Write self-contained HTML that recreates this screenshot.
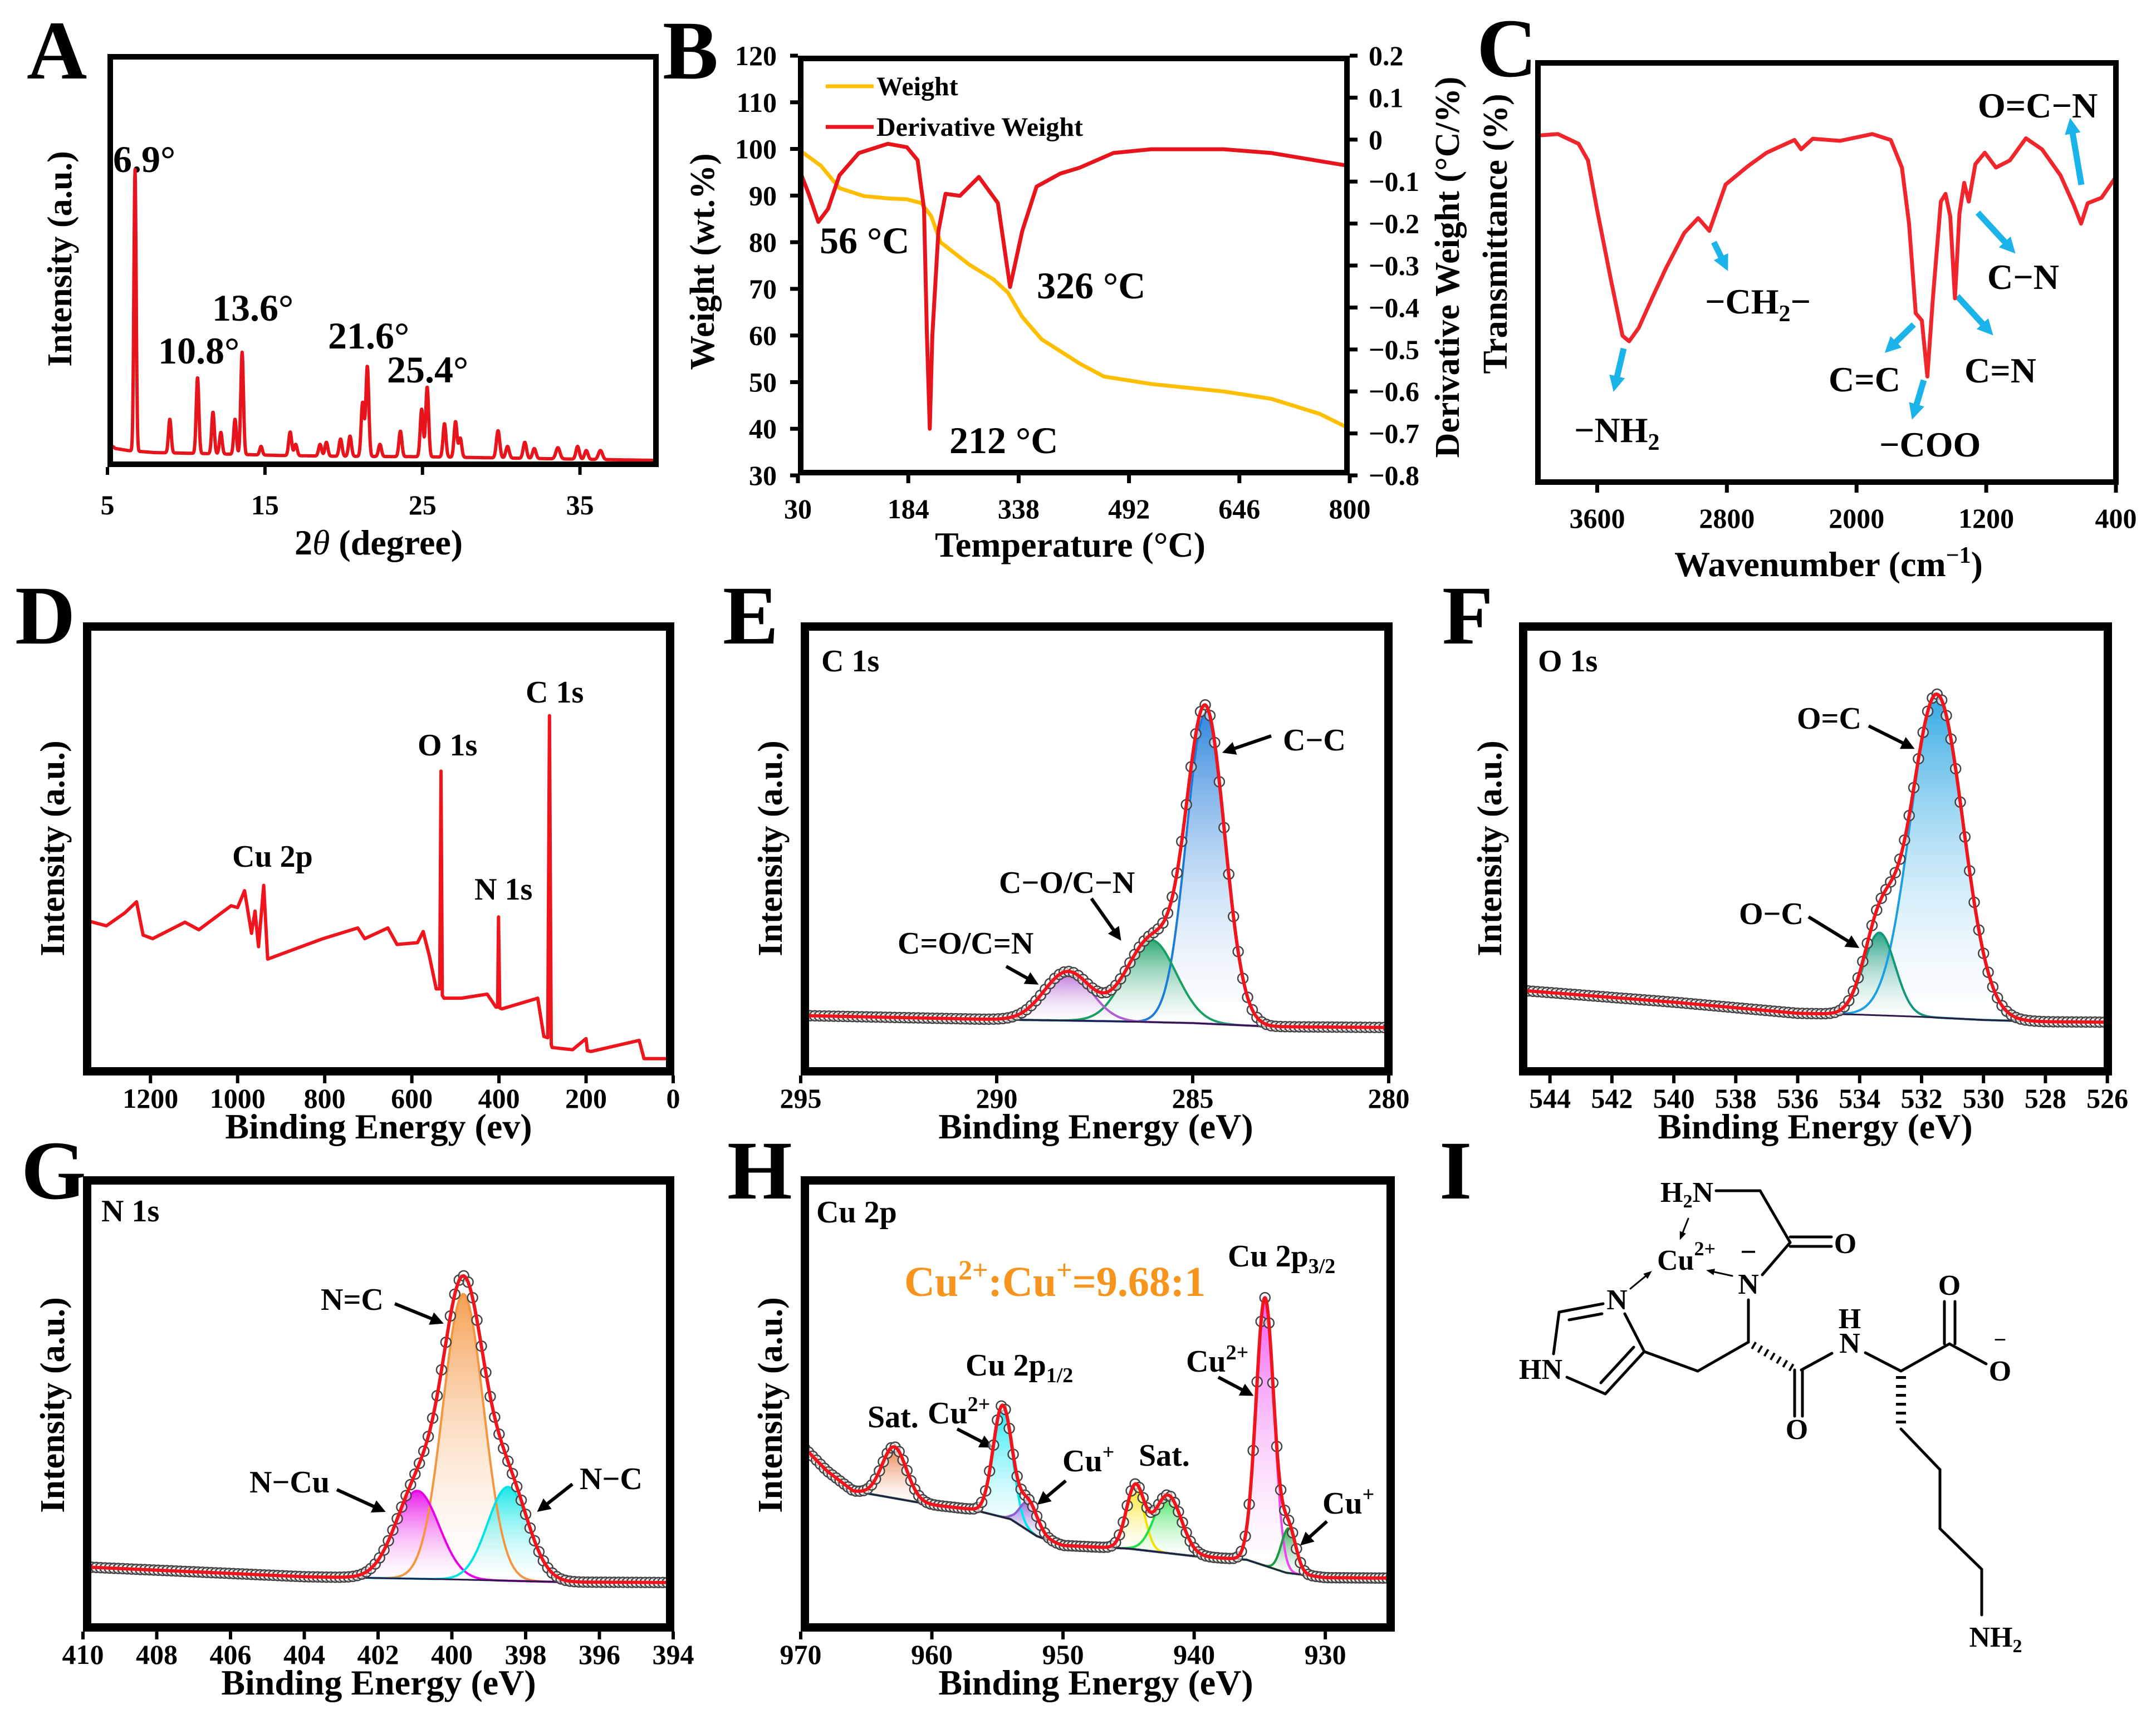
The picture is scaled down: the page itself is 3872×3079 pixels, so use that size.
<!DOCTYPE html>
<html><head><meta charset="utf-8">
<style>
html,body{margin:0;padding:0;background:#fff}
svg{display:block}
text{font-family:"Liberation Serif","DejaVu Serif",serif;font-weight:bold;fill:#000}
</style></head>
<body>
<svg id="fig" xmlns="http://www.w3.org/2000/svg" width="3872" height="3079" viewBox="0 0 3872 3079">
<defs>
<clipPath id="clipA"><rect x="203" y="107" width="970" height="722"/></clipPath>
<clipPath id="clipB"><rect x="1443" y="110" width="971" height="734"/></clipPath>
<clipPath id="clipC"><rect x="2767" y="118" width="1028" height="743"/></clipPath>
<clipPath id="clipD"><rect x="164" y="1133" width="1032" height="784"/></clipPath>
<clipPath id="clipE"><rect x="1453" y="1133" width="1033" height="784"/></clipPath>
<clipPath id="clipF"><rect x="2743" y="1133" width="1035" height="784"/></clipPath>
<clipPath id="clipG"><rect x="164" y="2128" width="1032" height="788"/></clipPath>
<clipPath id="clipH"><rect x="1453" y="2128" width="1037" height="788"/></clipPath>
<marker id="arrBlue" viewBox="0 0 10 10" refX="5" refY="5" markerWidth="2.6" markerHeight="2.6" orient="auto"><path d="M0,0 L10,5 L0,10 z" fill="#1ab3ea"/></marker>
<marker id="arrBlack" viewBox="0 0 10 10" refX="6" refY="5" markerWidth="4" markerHeight="4" orient="auto"><path d="M0,0 L10,5 L0,10 z" fill="#000"/></marker>
<marker id="arrThin" viewBox="0 0 10 10" refX="6" refY="5" markerWidth="5" markerHeight="5" orient="auto"><path d="M0,1 L10,5 L0,9 z" fill="#000"/></marker>
</defs>
<rect width="3872" height="3079" fill="#fff"/>

<text x="48" y="141" font-size="150">A</text>
<text x="1190" y="141" font-size="150">B</text>
<text x="2652" y="137" font-size="150">C</text>
<text x="27" y="1156" font-size="150">D</text>
<text x="1298" y="1156" font-size="150">E</text>
<text x="2590" y="1156" font-size="150">F</text>
<text x="38" y="2153" font-size="150">G</text>
<text x="1306" y="2153" font-size="150">H</text>
<text x="2585" y="2153" font-size="150">I</text>

<rect x="198" y="102" width="980" height="732" fill="none" stroke="#000" stroke-width="10"/>
<rect x="1438" y="105" width="981" height="744" fill="none" stroke="#000" stroke-width="10"/>
<rect x="2762" y="113" width="1038" height="753" fill="none" stroke="#000" stroke-width="10"/>
<rect x="156.5" y="1125.5" width="1047" height="799" fill="none" stroke="#000" stroke-width="15"/>
<rect x="1445.5" y="1125.5" width="1048" height="799" fill="none" stroke="#000" stroke-width="15"/>
<rect x="2735.5" y="1125.5" width="1050" height="799" fill="none" stroke="#000" stroke-width="15"/>
<rect x="156.5" y="2120.5" width="1047" height="803" fill="none" stroke="#000" stroke-width="15"/>
<rect x="1445.5" y="2120.5" width="1052" height="803" fill="none" stroke="#000" stroke-width="15"/>

<text x="680" y="996" font-size="64" text-anchor="middle">2<tspan font-style="italic" font-weight="normal">θ</tspan> (degree)</text>
<text transform="translate(128,465) rotate(-90)" font-size="62" text-anchor="middle">Intensity (a.u.)</text>
<text x="1922" y="1000" font-size="64" text-anchor="middle">Temperature (°C)</text>
<text transform="translate(1282,470) rotate(-90)" font-size="62" text-anchor="middle">Weight (wt.%)</text>
<text transform="translate(2620,480) rotate(-90)" font-size="62" text-anchor="middle">Derivative Weight (°C/%)</text>
<text x="3284" y="1035" font-size="64" text-anchor="middle">Wavenumber (cm<tspan font-size="42" dy="-24">−1</tspan><tspan dy="24">)</tspan></text>
<text transform="translate(2706,420) rotate(-90)" font-size="62" text-anchor="middle">Transmittance (%)</text>
<text x="680" y="2045" font-size="64" text-anchor="middle">Binding Energy (ev)</text>
<text transform="translate(115,1524) rotate(-90)" font-size="62" text-anchor="middle">Intensity (a.u.)</text>
<text x="1968" y="2045" font-size="64" text-anchor="middle">Binding Energy (eV)</text>
<text transform="translate(1404,1524) rotate(-90)" font-size="62" text-anchor="middle">Intensity (a.u.)</text>
<text x="3260" y="2045" font-size="64" text-anchor="middle">Binding Energy (eV)</text>
<text transform="translate(2696,1524) rotate(-90)" font-size="62" text-anchor="middle">Intensity (a.u.)</text>
<text x="680" y="3044" font-size="64" text-anchor="middle">Binding Energy (eV)</text>
<text transform="translate(115,2524) rotate(-90)" font-size="62" text-anchor="middle">Intensity (a.u.)</text>
<text x="1968" y="3044" font-size="64" text-anchor="middle">Binding Energy (eV)</text>
<text transform="translate(1404,2524) rotate(-90)" font-size="62" text-anchor="middle">Intensity (a.u.)</text>

<g font-size="68">
<text x="203" y="309">6.9°</text>
<text x="284" y="653">10.8°</text>
<text x="381" y="576">13.6°</text>
<text x="589" y="626">21.6°</text>
<text x="695" y="687">25.4°</text>
</g>

<g font-size="68">
<text x="1472" y="455">56 °C</text>
<text x="1705" y="814">212 °C</text>
<text x="1862" y="536">326 °C</text>
</g>
<g>
<line x1="1483" y1="155" x2="1569" y2="155" stroke="#ffbf00" stroke-width="7"/>
<text x="1574" y="171" font-size="48">Weight</text>
<line x1="1483" y1="228" x2="1569" y2="228" stroke="#e8141c" stroke-width="7"/>
<text x="1574" y="244" font-size="48">Derivative Weight</text>
</g>

<g font-size="64">
<text x="3552" y="211">O=C−N</text>
<text x="3062" y="563">−CH<tspan font-size="42" dy="14">2</tspan><tspan dy="-14">−</tspan></text>
<text x="2827" y="794">−NH<tspan font-size="42" dy="14">2</tspan></text>
<text x="3284" y="703">C=C</text>
<text x="3375" y="820">−COO</text>
<text x="3528" y="687">C=N</text>
<text x="3569" y="519">C−N</text>
</g>
<g stroke="#1ab3ea" stroke-width="11" marker-end="url(#arrBlue)">
<line x1="2916" y1="626" x2="2901" y2="690"/>
<line x1="3078" y1="435" x2="3097" y2="474"/>
<line x1="3437" y1="583" x2="3395" y2="624"/>
<line x1="3455" y1="683" x2="3438" y2="740"/>
<line x1="3515" y1="532" x2="3570" y2="592"/>
<line x1="3552" y1="382" x2="3610" y2="445"/>
<line x1="3738" y1="332" x2="3720" y2="226"/>
</g>

<g font-size="56">
<text x="944" y="1262">C 1s</text>
<text x="750" y="1357">O 1s</text>
<text x="852" y="1616">N 1s</text>
<text x="417" y="1557">Cu 2p</text>
</g>

<g font-size="56">
<text x="1475" y="1206">C 1s</text>
<text x="2304" y="1348">C−C</text>
<text x="1794" y="1604">C−O/C−N</text>
<text x="1612" y="1713">C=O/C=N</text>
<text x="2762" y="1206">O 1s</text>
<text x="3227" y="1309">O=C</text>
<text x="3123" y="1660">O−C</text>
<text x="182" y="2194">N 1s</text>
<text x="576" y="2353">N=C</text>
<text x="448" y="2681">N−Cu</text>
<text x="1041" y="2675">N−C</text>
<text x="1466" y="2196">Cu 2p</text>
<text x="2205" y="2275">Cu 2p<tspan font-size="38" dy="12">3/2</tspan></text>
<text x="1734" y="2471">Cu 2p<tspan font-size="38" dy="12">1/2</tspan></text>
<text x="2130" y="2464">Cu<tspan font-size="38" dy="-22">2+</tspan></text>
<text x="1558" y="2564">Sat.</text>
<text x="1666" y="2557">Cu<tspan font-size="38" dy="-22">2+</tspan></text>
<text x="1908" y="2643">Cu<tspan font-size="38" dy="-22">+</tspan></text>
<text x="2045" y="2633">Sat.</text>
<text x="2375" y="2719">Cu<tspan font-size="38" dy="-22">+</tspan></text>
</g>
<text x="1624" y="2328" font-size="76" style="fill:#f7941d">Cu<tspan font-size="50" dy="-30">2+</tspan><tspan dy="30">:Cu</tspan><tspan font-size="50" dy="-30">+</tspan><tspan dy="30">=9.68:1</tspan></text>
<g stroke="#000" stroke-width="6" marker-end="url(#arrBlack)">
<line x1="2283" y1="1322" x2="2204" y2="1349"/>
<line x1="1960" y1="1614" x2="2008" y2="1682"/>
<line x1="1807" y1="1736" x2="1857" y2="1764"/>
<line x1="3356" y1="1304" x2="3430" y2="1341"/>
<line x1="3248" y1="1647" x2="3331" y2="1698"/>
<line x1="709" y1="2342" x2="788" y2="2374"/>
<line x1="605" y1="2676" x2="684" y2="2712"/>
<line x1="1028" y1="2666" x2="972" y2="2710"/>
<line x1="2188" y1="2474" x2="2243" y2="2503"/>
<line x1="1719" y1="2567" x2="1775" y2="2596"/>
<line x1="1914" y1="2660" x2="1870" y2="2697"/>
<line x1="2383" y1="2733" x2="2342" y2="2770"/>
</g>

<g stroke="#000" stroke-width="5" fill="none" stroke-linecap="round">
<line x1="3082" y1="2139" x2="3161" y2="2139"/>
<line x1="3161" y1="2139" x2="3215" y2="2232"/>
<line x1="3215" y1="2222" x2="3289" y2="2222"/>
<line x1="3215" y1="2239" x2="3289" y2="2239"/>
<line x1="3215" y1="2232" x2="3165" y2="2290"/>
<line x1="3140" y1="2335" x2="3140" y2="2411"/>
<line x1="2879" y1="2342" x2="2800" y2="2357"/>
<line x1="2877" y1="2360" x2="2818" y2="2371"/>
<line x1="2800" y1="2357" x2="2790" y2="2432"/>
<line x1="2814" y1="2474" x2="2883" y2="2504"/>
<line x1="2883" y1="2504" x2="2953" y2="2428"/>
<line x1="2875" y1="2484" x2="2934" y2="2420"/>
<line x1="2953" y1="2428" x2="2918" y2="2360"/>
<line x1="2953" y1="2428" x2="3049" y2="2463"/>
<line x1="3049" y1="2463" x2="3140" y2="2411"/>
<line x1="3223" y1="2461" x2="3223" y2="2544"/>
<line x1="3237" y1="2461" x2="3237" y2="2544"/>
<line x1="3235" y1="2461" x2="3290" y2="2431"/>
<line x1="3350" y1="2430" x2="3414" y2="2463"/>
<line x1="3414" y1="2463" x2="3501" y2="2414"/>
<line x1="3492" y1="2414" x2="3492" y2="2338"/>
<line x1="3511" y1="2414" x2="3511" y2="2338"/>
<line x1="3501" y1="2414" x2="3567" y2="2450"/>
<line x1="3414" y1="2567" x2="3484" y2="2640"/>
<line x1="3484" y1="2640" x2="3484" y2="2746"/>
<line x1="3484" y1="2746" x2="3559" y2="2819"/>
<line x1="3559" y1="2819" x2="3559" y2="2901"/>
<line x1="3148" y1="2416" x2="3225" y2="2461" stroke-width="14" stroke-dasharray="4 9" stroke-linecap="butt"/>
<line x1="3414" y1="2472" x2="3414" y2="2558" stroke-width="18" stroke-dasharray="5 11" stroke-linecap="butt"/>
<line x1="3032" y1="2189" x2="3019" y2="2222" stroke-width="3" marker-end="url(#arrThin)"/>
<line x1="3111" y1="2292" x2="3070" y2="2283" stroke-width="3" marker-end="url(#arrThin)"/>
<line x1="2928" y1="2315" x2="2962" y2="2287" stroke-width="3" marker-end="url(#arrThin)"/>
</g>
<g font-size="52">
<text x="3077" y="2159" text-anchor="end">H<tspan font-size="34" dy="10">2</tspan><tspan dy="-10">N</tspan></text>
<text x="3314" y="2251" text-anchor="middle">O</text>
<text x="3140" y="2324" text-anchor="middle">N</text>
<text x="3140" y="2266" text-anchor="middle">−</text>
<text x="2976" y="2281">Cu<tspan font-size="36" dy="-26">2+</tspan></text>
<text x="2904" y="2352" text-anchor="middle">N</text>
<text x="2767" y="2477" text-anchor="middle">HN</text>
<text x="3227" y="2585" text-anchor="middle">O</text>
<text x="3322" y="2386" text-anchor="middle">H</text>
<text x="3322" y="2430" text-anchor="middle">N</text>
<text x="3501" y="2326" text-anchor="middle">O</text>
<text x="3592" y="2480" text-anchor="middle">O</text>
<text x="3592" y="2420" text-anchor="middle" font-size="40">−</text>
<text x="3584" y="2958" text-anchor="middle">NH<tspan font-size="34" dy="10">2</tspan></text>
</g>
</svg>

<script>
// ---------- DATA ----------
const xrdPos=[6.75,8.96,10.72,11.7,12.2,13.1,13.55,14.75,16.6,16.95,18.5,18.9,19.8,20.4,21.2,21.5,22.3,23.6,24.95,25.3,26.4,27.1,27.4,29.8,30.4,31.5,32.1,33.6,34.85,35.4,36.3];
const xrdPeak=[72,11.6,21.7,13.3,8.4,11.6,27.8,5,8.5,5.5,5.5,6,6.8,7.5,15.6,24.4,5.5,8.7,14,19.4,10.5,11,7,8.8,5,6,4.5,4.7,5,4,4];
const xrdFwhm=[0.17,0.2,0.2,0.2,0.2,0.2,0.2,0.2,0.22,0.22,0.22,0.22,0.22,0.22,0.22,0.22,0.22,0.22,0.22,0.22,0.22,0.22,0.22,0.25,0.25,0.25,0.25,0.3,0.25,0.25,0.3];
const xrdBaseX=[5,5.5,6.3,8,12,16,20,25,30,35,40];
const xrdBaseY=[6,4.5,4,3.5,3.2,2.8,2.6,2.5,2.2,1.9,1.6];
const xrdTicks=[5,15,25,35];
const tgaT=[30,62,88,122,155.5,182,202,216,229,269,303,323,343,370,423,457,523,624,691,758,800];
const tgaW=[100,96.4,91.6,89.9,89.4,89.2,88.4,85.6,80,75.2,72,69.2,64,59.2,54,51.2,49.6,48,46.4,43.2,40];
const dtgT=[30,45,58.5,72,88,115,155.5,182,197,206,210,214,217.6,226,236,256,282.5,309,326,343,363,396,423,470,523,624,691,800];
const dtgD=[-0.063,-0.129,-0.196,-0.165,-0.085,-0.032,-0.010,-0.018,-0.049,-0.165,-0.467,-0.689,-0.467,-0.218,-0.129,-0.134,-0.089,-0.151,-0.351,-0.218,-0.112,-0.081,-0.067,-0.032,-0.023,-0.023,-0.032,-0.063];
const tgaXTicks=[30,184,338,492,646,800];
const tgaLeftTicks=[30,40,50,60,70,80,90,100,110,120];
const tgaRightTicks=[-0.8,-0.7,-0.6,-0.5,-0.4,-0.3,-0.2,-0.1,0,0.1,0.2];
const ftirWn=[3983,3842,3715,3657,3602,3516,3444,3403,3345,3262,3176,3063,2977,2908,2808,2668,2555,2383,2342,2270,2102,1903,1789,1720,1676,1635,1597,1563,1529,1480,1451,1422,1393,1365,1336,1308,1267,1209,1140,1054,955,856,742,660,615,574,489,400];
const ftirT=[82.2,82.6,80.3,76.4,65,48.4,35.1,33.8,36.9,43.9,51,59.3,62.8,59.8,70.7,75.1,78.2,81.2,79,81.5,81,82.6,81.2,74.7,61.5,40.4,38.7,25.5,43.9,66.7,68.5,63.2,43.9,64,71.1,66.7,75.5,78.2,74.7,76.4,81.6,79,72.9,65.9,61.5,66.3,67.6,72.5];
const ftirTicks=[3600,2800,2000,1200,400];
const surveyBE=[1351,1301,1259,1232,1217,1195,1121,1089,1015,1000,984,968,960,952,940,931,804,724,708,655,634,587,574,560,544,536,533,530,526,486,427,407,403,401,398,393,311,297,288,284,280,278,231,200,197,189,78,67,4,0];
const surveyI=[34,32.7,35.6,38.1,30.6,29.8,33.5,31.8,37.2,36.8,40.6,31,36,28,41.8,25.2,29.8,32.2,29.8,32.2,28.5,28.9,31.4,26,18.5,18.5,67.5,17,16.4,16.4,17.3,14.4,14.4,34.7,14.2,14,16.4,7.8,7.5,80,6,5.3,4.8,7.3,4.6,4.4,6.9,2.8,2.8,1.1];
const surveyTicks=[1200,1000,800,600,400,200,0];
const c1sCenter=[284.67,286.06,288.19];
const c1sAmp=[70,18.5,11];
const c1sFwhm=[1.15,1.5,1.4];
const c1sBaseBE=[295,290,287,285,283,280];
const c1sBaseI=[12.5,11.6,11.2,10.8,10.0,9.8];
const c1sTicks=[295,290,285,280];
const o1sCenter=[531.51,533.36];
const o1sAmp=[72.8,18.6];
const o1sFwhm=[2.0,1.2];
const o1sBaseBE=[545,540,536,534,532,530,528,526];
const o1sBaseI=[18.2,15.5,13,12.7,12.2,11.5,11.1,11];
const o1sTicks=[544,542,540,538,536,534,532,530,528,526];
const n1sCenter=[399.69,400.94,398.48];
const n1sAmp=[64,19.7,21];
const n1sFwhm=[1.3,1.4,1.3];
const n1sBaseBE=[410,404,400,397,394];
const n1sBaseI=[13.5,11.3,10.7,10.1,10];
const n1sTicks=[410,408,406,404,402,400,398,396,394];
const cu2pCenter=[962.87,954.6,952.6,944.5,942.0,934.6,932.8];
const cu2pAmp=[11.5,25,6.5,14,13,60,10];
const cu2pFwhm=[2.2,1.7,1.6,1.6,2.4,1.6,1.3];
const cu2pBaseBE=[970,968,966,960,957,954,952,950,945,940,936,933,930,926];
const cu2pBaseI=[41,35,30.5,27.4,26.4,24.2,20.4,18.3,17.6,15.9,15.1,12.2,11.1,11];
const cu2pTicks=[970,960,950,940,930];

const c1sColors=['#1c7ad8','#18a062','#b05fd2'];
const o1sColors=['#1a9fe0','#11987a'];
const n1sColors=['#f4953f','#e800e8','#00e4e4'];
const cu2pColors=['#e8692e','#00e5f0','#8b5cd6','#f5e000','#1fe040','#f044f0','#1a9a40'];

const svg=document.getElementById('fig');
const NS='http://www.w3.org/2000/svg';
function mk(tag,attrs,parent){const e=document.createElementNS(NS,tag);for(const k in attrs)e.setAttribute(k,attrs[k]);(parent||svg).appendChild(e);return e;}
function lin(d0,d1,r0,r1){return v=>r0+(v-d0)*(r1-r0)/(d1-d0);}
function interp(xs,ys,x){
  const asc=xs[0]<xs[xs.length-1];
  for(let i=0;i<xs.length-1;i++){
    const a=xs[i],b=xs[i+1];
    if((asc&&x>=a&&x<=b)||(!asc&&x<=a&&x>=b)){return ys[i]+(x-a)*(ys[i+1]-ys[i])/(b-a);}
  }
  return (asc?(x<xs[0]):(x>xs[0]))?ys[0]:ys[ys.length-1];
}
const L4=4*Math.LN2;
function gauss(x,c,a,w){return a*Math.exp(-L4*((x-c)/w)*((x-c)/w));}
function ptsStr(arr){return arr.map(p=>p[0].toFixed(1)+','+p[1].toFixed(1)).join(' ');}

function xTicks(ticks,sx,yBottom,labelY,len,sw,fmt,group){
  ticks.forEach(t=>{
    const x=sx(t);
    const tk=mk('line',{x1:x,y1:yBottom,x2:x,y2:yBottom+len,stroke:'#000','stroke-width':sw},group);
    
    
    const lb=mk('text',{x:x,y:labelY,'font-size':50,'text-anchor':'middle'},group);
    
    
    lb.textContent=fmt?fmt(t):String(t);
  });
}

(function(){
  const g=mk('g',{});
  
  
  const sx=lin(5,40,193,1183), sy=lin(0,100,839,97);
  const pts=[];
  for(let t=5.05;t<=39.95;t+=0.02){
    let v=interp(xrdBaseX,xrdBaseY,t);
    for(let i=0;i<xrdPos.length;i++){v+=gauss(t,xrdPos[i],xrdPeak[i]-interp(xrdBaseX,xrdBaseY,xrdPos[i]),xrdFwhm[i]);}
    pts.push([sx(t),sy(v)]);
  }
  const pl=mk('polyline',{points:ptsStr(pts),fill:'none',stroke:'#e8141c','stroke-width':6,'stroke-linejoin':'round','clip-path':'url(#clipA)'},g);
  
  
  xTicks(xrdTicks,sx,839,924,14,6,null,g);
})();

(function(){
  const g=mk('g',{});
  
  
  const sx=lin(30,800,1433,2424), syL=lin(30,120,854,100), syR=lin(-0.8,0.2,854,100);
  const w=mk('polyline',{points:ptsStr(tgaT.map((t,i)=>[sx(t),syL(tgaW[i])])),fill:'none',stroke:'#ffbf00','stroke-width':7,'stroke-linejoin':'round','clip-path':'url(#clipB)'},g);
  
  
  const d=mk('polyline',{points:ptsStr(dtgT.map((t,i)=>[sx(t),syR(dtgD[i])])),fill:'none',stroke:'#e8141c','stroke-width':7,'stroke-linejoin':'round','clip-path':'url(#clipB)'},g);
  
  
  xTicks(tgaXTicks,sx,854,931,14,7,null,g);
  tgaLeftTicks.forEach(v=>{
    const y=syL(v);
    const tk=mk('line',{x1:1433,y1:y,x2:1419,y2:y,stroke:'#000','stroke-width':7},g);
    
    
    const lb=mk('text',{x:1395,y:y+17,'font-size':50,'text-anchor':'end'},g);
    
    
    lb.textContent=String(v);
  });
  tgaRightTicks.forEach(v=>{
    const y=syR(v);
    const tk=mk('line',{x1:2424,y1:y,x2:2438,y2:y,stroke:'#000','stroke-width':7},g);
    
    
    const lb=mk('text',{x:2458,y:y+17,'font-size':50},g);
    
    
    lb.textContent=Math.abs(v)<1e-9?'0':(v<0?'−'+Math.abs(v).toFixed(1):v.toFixed(1));
  });
})();

(function(){
  const g=mk('g',{});
  
  
  const sx=lin(4000,400,2752,3800), sy=lin(0,100,871,108);
  const pl=mk('polyline',{points:ptsStr(ftirWn.map((t,i)=>[sx(t),sy(ftirT[i])])),fill:'none',stroke:'#f0262c','stroke-width':7,'stroke-linejoin':'round','clip-path':'url(#clipC)'},g);
  
  
  xTicks(ftirTicks,sx,871,948,14,7,null,g);
})();

(function(){
  const g=mk('g',{});
  
  
  const sx=lin(1355,0,149,1209), sy=lin(0,100,1924,1126);
  const pl=mk('polyline',{points:ptsStr(surveyBE.map((t,i)=>[sx(t),sy(surveyI[i])])),fill:'none',stroke:'#f0141c','stroke-width':6,'stroke-linejoin':'round','clip-path':'url(#clipD)'},g);
  
  
  xTicks(surveyTicks,sx,1932,1990,14,6,null,g);
})();

function xpsPanel(id,clip,dom,xr,yr,centers,amps,fwhms,baseBE,baseI,colors,ticks,tickY,step){
  const g=mk('g',{});
  
  
  const sx=lin(dom[0],dom[1],xr[0],xr[1]), sy=lin(0,100,yr[0],yr[1]);
  const lo=Math.min(dom[0],dom[1]), hi=Math.max(dom[0],dom[1]);
  const es=[];
  for(let e=hi;e>=lo;e-=0.04)es.push(e);
  const base=e=>interp(baseBE,baseI,e);
  const cg=mk('g',{'clip-path':'url(#'+clip+')'},g);
  
  
  const defs=svg.querySelector('defs');
  centers.forEach((c,i)=>{
    const gid='grad-'+id+'-'+i;
    const lg=mk('linearGradient',{id:gid,x1:0,y1:0,x2:0,y2:1},defs);
    mk('stop',{offset:'0','stop-color':colors[i],'stop-opacity':0.9},lg);
    mk('stop',{offset:'1','stop-color':'#ffffff','stop-opacity':0.2},lg);
    const sub=es.filter(e=>Math.abs(e-c)<fwhms[i]*2.2);
    const top=sub.map(e=>[sx(e),sy(base(e)+gauss(e,c,amps[i],fwhms[i]))]);
    const bot=sub.slice().reverse().map(e=>[sx(e),sy(base(e))]);
    const poly=mk('polygon',{points:ptsStr(top.concat(bot)),fill:'url(#'+gid+')',stroke:'none'},cg);
    
    
  });
  centers.forEach((c,i)=>{
    const ln=mk('polyline',{points:ptsStr(es.map(e=>[sx(e),sy(base(e)+gauss(e,c,amps[i],fwhms[i]))])),fill:'none',stroke:colors[i],'stroke-width':4},cg);
    
    
  });
  const bl=mk('polyline',{points:ptsStr(es.map(e=>[sx(e),sy(base(e))])),fill:'none',stroke:'#2a1848','stroke-width':3},cg);
  
  
  const env=e=>{let v=base(e);centers.forEach((c,i)=>{v+=gauss(e,c,amps[i],fwhms[i]);});return v;};
  for(let e=hi;e>=lo;e-=step){
    const ci=mk('circle',{cx:sx(e),cy:sy(env(e)),r:9,fill:'#fff','fill-opacity':0.6,stroke:'#444','stroke-width':2.5},cg);
    
    
  }
  const el=mk('polyline',{points:ptsStr(es.map(e=>[sx(e),sy(env(e))])),fill:'none',stroke:'#f0141c','stroke-width':6,'stroke-linejoin':'round'},cg);
  
  
  xTicks(ticks,sx,yr[0]+8,tickY,14,6,null,g);
}
xpsPanel('e','clipE',[295,279.9],[1438,2501],[1924,1126],c1sCenter,c1sAmp,c1sFwhm,c1sBaseBE,c1sBaseI,c1sColors,c1sTicks,1990,0.12);
xpsPanel('f','clipF',[545,525.85],[2728,3793],[1924,1126],o1sCenter,o1sAmp,o1sFwhm,o1sBaseBE,o1sBaseI,o1sColors,o1sTicks,1990,0.15);
xpsPanel('g','clipG',[410,394],[149,1209],[2923,2121],n1sCenter,n1sAmp,n1sFwhm,n1sBaseBE,n1sBaseI,n1sColors,n1sTicks,2989,0.12);
xpsPanel('h','clipH',[970,924.7],[1438,2505],[2923,2121],cu2pCenter,cu2pAmp,cu2pFwhm,cu2pBaseBE,cu2pBaseI,cu2pColors,cu2pTicks,2989,0.3);
</script>
</body></html>
